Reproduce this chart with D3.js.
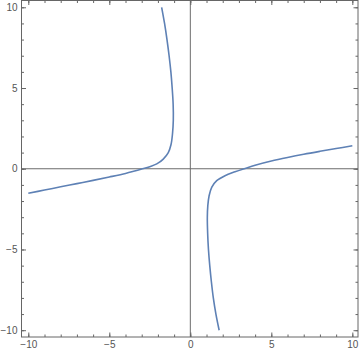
<!DOCTYPE html>
<html lang="en"><head><meta charset="utf-8">
<title>Contour curve</title>
<script src="https://cdn.jsdelivr.net/npm/d3@7"></script>
<style>
  body { margin: 0; background: #fff; }
  text { font-family: "Liberation Sans", sans-serif; }
</style>
</head>
<body>
<script>
// two branches of the curve
var leftBranch = [
  [-10, -1.52], [-9, -1.32], [-8, -1.12], [-7, -0.92], [-6, -0.72], [-5, -0.51],
  [-4, -0.29], [-3.5, -0.16], [-3, -0.02], [-2.5, 0.13], [-2.07, 0.3], [-1.67, 0.6],
  [-1.36, 1.0], [-1.19, 1.5], [-1.1, 2.16], [-1.05, 3], [-1.06, 4], [-1.12, 5],
  [-1.2, 6], [-1.31, 7], [-1.44, 8], [-1.59, 9], [-1.77, 10]
];
var rightBranch = [
  [1.78, -10], [1.58, -9], [1.42, -8], [1.3, -7], [1.2, -6], [1.12, -5],
  [1.07, -4], [1.05, -3], [1.08, -2.28], [1.16, -1.67], [1.32, -1.15], [1.63, -0.74],
  [2.14, -0.43], [2.76, -0.19], [3.38, 0.02], [4, 0.22], [5, 0.48], [6, 0.7],
  [7, 0.9], [8, 1.08], [9, 1.25], [10, 1.42]
];
var majorTicks = [-10, -5, 0, 5, 10];
var minorTicks = d3.range(-10, 11, 1);

var width = 360, height = 353;
// note: "top" is taken by window.top, so use other names
var frameL = 21.5, frameR = 358, frameT = 0.5, frameB = 337;

var svg = d3.select("body").append("svg")
    .attr("width", width)
    .attr("height", height);

var x = d3.scaleLinear().domain([-10.42, 10.35]).range([frameL, frameR]);
var y = d3.scaleLinear().domain([-10.42, 10.42]).range([frameB, frameT]);

var frameColor = "#666";

// axes through the origin
svg.append("line")
    .attr("x1", frameL).attr("x2", frameR)
    .attr("y1", y(0)).attr("y2", y(0))
    .attr("stroke", "#6b6b6b").attr("stroke-width", 1);
svg.append("line")
    .attr("x1", x(0)).attr("x2", x(0))
    .attr("y1", frameT).attr("y2", frameB)
    .attr("stroke", "#6b6b6b").attr("stroke-width", 1);

// curve
var line = d3.line()
    .x(function(d) { return x(d[0]); })
    .y(function(d) { return y(d[1]); })
    .curve(d3.curveCatmullRom.alpha(0.5));

[leftBranch, rightBranch].forEach(function(b) {
  svg.append("path")
      .attr("d", line(b))
      .attr("fill", "none")
      .attr("stroke", "#5E81B5")
      .attr("stroke-width", 1.6);
});

// frame ticks, pointing inward
function frameAxis(axisFn, scale, pos, labels) {
  var g = svg.append("g").attr("transform", pos);
  g.append("g").call(axisFn(scale).tickValues(minorTicks).tickSize(-2.5).tickFormat(""));
  var maj = g.append("g").call(axisFn(scale).tickValues(majorTicks).tickSize(-4.5).tickPadding(labels ? 4 : 0));
  if (!labels) maj.selectAll("text").remove();
  g.selectAll(".domain").remove();
  g.selectAll("line").attr("stroke", frameColor);
  g.selectAll("text").attr("fill", "#555").attr("font-size", 10)
      .attr("font-family", "Liberation Sans, sans-serif");
  return g;
}

frameAxis(d3.axisBottom, x, "translate(0," + frameB + ")", true);
frameAxis(d3.axisTop, x, "translate(0," + frameT + ")", false);
frameAxis(d3.axisLeft, y, "translate(" + frameL + ",0)", true);
frameAxis(d3.axisRight, y, "translate(" + frameR + ",0)", false);

svg.append("rect")
    .attr("x", frameL).attr("y", frameT)
    .attr("width", frameR - frameL).attr("height", frameB - frameT)
    .attr("fill", "none")
    .attr("stroke", frameColor)
    .attr("stroke-width", 1);
</script>
</body></html>
